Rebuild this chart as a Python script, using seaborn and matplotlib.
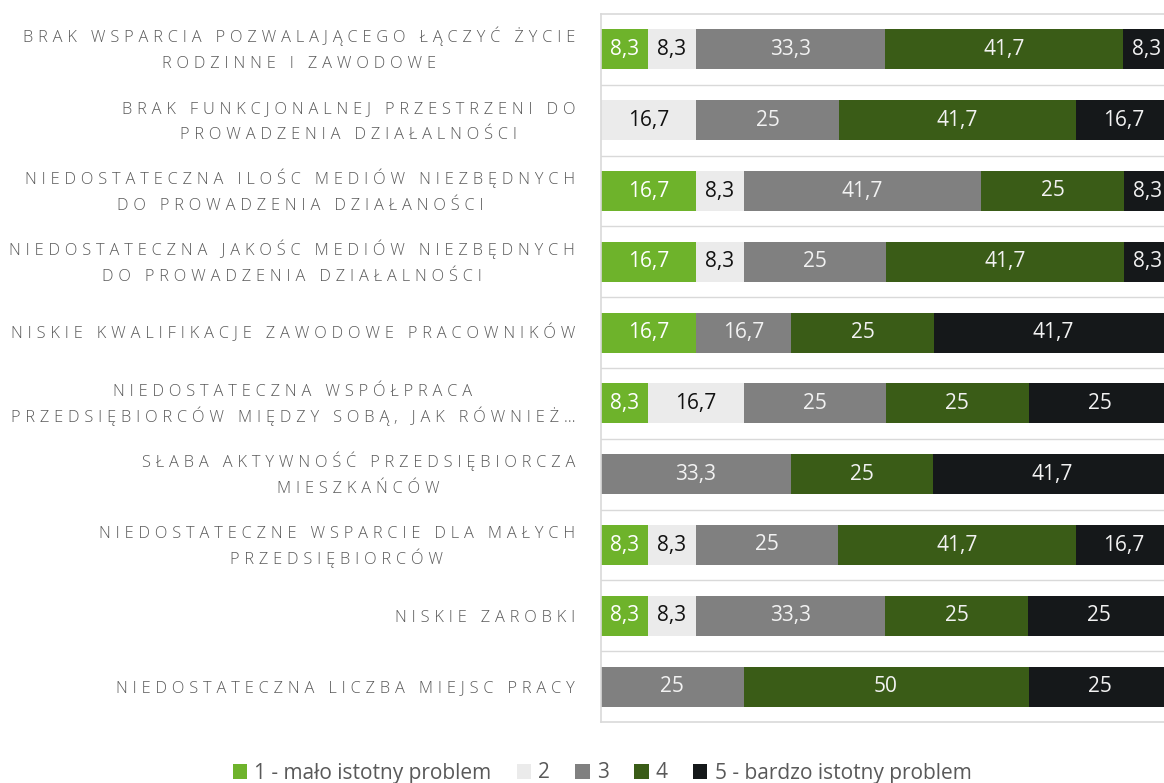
import matplotlib
matplotlib.use("Agg")
import matplotlib.pyplot as plt
from matplotlib.patches import Patch
from matplotlib.transforms import offset_copy
import numpy as np
import pandas as pd
import seaborn as sns

categories = [
    "BRAK WSPARCIA POZWALAJĄCEGO ŁĄCZYĆ ŻYCIE\nRODZINNE I ZAWODOWE",
    "BRAK FUNKCJONALNEJ PRZESTRZENI DO\nPROWADZENIA DZIAŁALNOŚCI",
    "NIEDOSTATECZNA ILOŚC MEDIÓW NIEZBĘDNYCH\nDO PROWADZENIA DZIAŁANOŚCI",
    "NIEDOSTATECZNA JAKOŚC MEDIÓW NIEZBĘDNYCH\nDO PROWADZENIA DZIAŁALNOŚCI",
    "NISKIE KWALIFIKACJE ZAWODOWE PRACOWNIKÓW",
    "NIEDOSTATECZNA WSPÓŁPRACA\nPRZEDSIĘBIORCÓW MIĘDZY SOBĄ, JAK RÓWNIEŻ…",
    "SŁABA AKTYWNOŚĆ PRZEDSIĘBIORCZA\nMIESZKAŃCÓW",
    "NIEDOSTATECZNE WSPARCIE DLA MAŁYCH\nPRZEDSIĘBIORCÓW",
    "NISKIE ZAROBKI",
    "NIEDOSTATECZNA LICZBA MIEJSC PRACY",
]
series_names = ["1 - mało istotny problem", "2", "3", "4", "5 - bardzo istotny problem"]
s1 = [8.3, 0, 16.7, 16.7, 16.7, 8.3, 0, 8.3, 8.3, 0]
s2 = [8.3, 16.7, 8.3, 8.3, 0, 16.7, 0, 8.3, 8.3, 0]
s3 = [33.3, 25, 41.7, 25, 16.7, 25, 33.3, 25, 33.3, 25]
s4 = [41.7, 41.7, 25, 41.7, 25, 25, 25, 41.7, 25, 50]
s5 = [8.3, 16.7, 8.3, 8.3, 41.7, 25, 41.7, 16.7, 25, 25]

colors = ["#6eb32b", "#ebebeb", "#808080", "#3a5c17", "#15181a"]
text_colors = ["#ffffff", "#111111", "#f2f2f2", "#f2f2f2", "#f2f2f2"]
label_grey = "#595959"

sns.set_theme(style="white")
plt.rcParams["font.family"] = ["Open Sans", "DejaVu Sans"]


def spaced(text):
    # fake letter spacing with thin + hair spaces
    return "\u2009\u200a".join(text)


df = pd.DataFrame({"kategoria": categories, "s1": s1, "s2": s2, "s3": s3, "s4": s4, "s5": s5})
cols = ["s1", "s2", "s3", "s4", "s5"]
cum = df[cols].cumsum(axis=1)
for c in cols:
    df["cum_" + c] = cum[c]

fig = plt.figure(figsize=(11.64, 7.83), dpi=100)
ax = fig.add_axes([601 / 1164, 1 - 722 / 783, 570 / 1164, 708 / 783])

# stacked bars: draw cumulative totals from the longest to the shortest
for k in range(len(cols) - 1, -1, -1):
    sns.barplot(data=df, x="cum_" + cols[k], y="kategoria", order=categories,
                color=colors[k], saturation=1, width=0.565, linewidth=0, ax=ax)

for i in range(len(categories)):
    left = 0.0
    for k, c in enumerate(cols):
        v = df.loc[i, c]
        if v > 0:
            ax.text(left + v / 2, i, f"{v:g}".replace(".", ","), ha="center", va="center",
                    fontsize=15, color=text_colors[k])
        left += v

for y in np.arange(0.5, len(categories) - 0.5, 1):
    ax.axhline(y, color="#d9d9d9", lw=1, zorder=0)

ax.set_xlim(0, 100)
ax.set_ylim(len(categories) - 0.5, -0.5)
ax.set_xticks([])
ax.set_yticks([])
ax.set_xlabel("")
ax.set_ylabel("")
for sp in ax.spines.values():
    sp.set_color("#d9d9d9")
    sp.set_linewidth(1.2)

# category labels: each line placed by hand so the line gap stays even,
# lines centred on each other, block right-aligned next to the axis
line_step = 0.367
base_off = 0.083
label_x = -26 / 570
renderer = fig.canvas.get_renderer()
ytrans = ax.get_yaxis_transform()
for i, cat in enumerate(categories):
    lines = cat.split("\n")
    texts = []
    for j, line in enumerate(lines):
        y = i + (j - (len(lines) - 1) / 2) * line_step + base_off
        texts.append(ax.text(label_x, y, spaced(line), transform=ytrans, ha="center",
                             va="baseline", fontsize=11.8, fontweight="light",
                             color=label_grey, clip_on=False))
    maxw = max(t.get_window_extent(renderer).width for t in texts)
    for t in texts:
        t.set_transform(offset_copy(ytrans, fig=fig, x=-maxw / 2 * 72 / fig.dpi, units="points"))

handles = [Patch(facecolor=colors[k], edgecolor="none") for k in range(len(cols))]
fig.legend(handles, series_names, loc="center", bbox_to_anchor=(602 / 1164, 1 - 773 / 783),
           ncol=5, frameon=False, fontsize=15, labelcolor=label_grey,
           handlelength=0.7, handleheight=0.7, handletextpad=0.35, columnspacing=1.2)

fig.savefig("out.png", dpi=100)
